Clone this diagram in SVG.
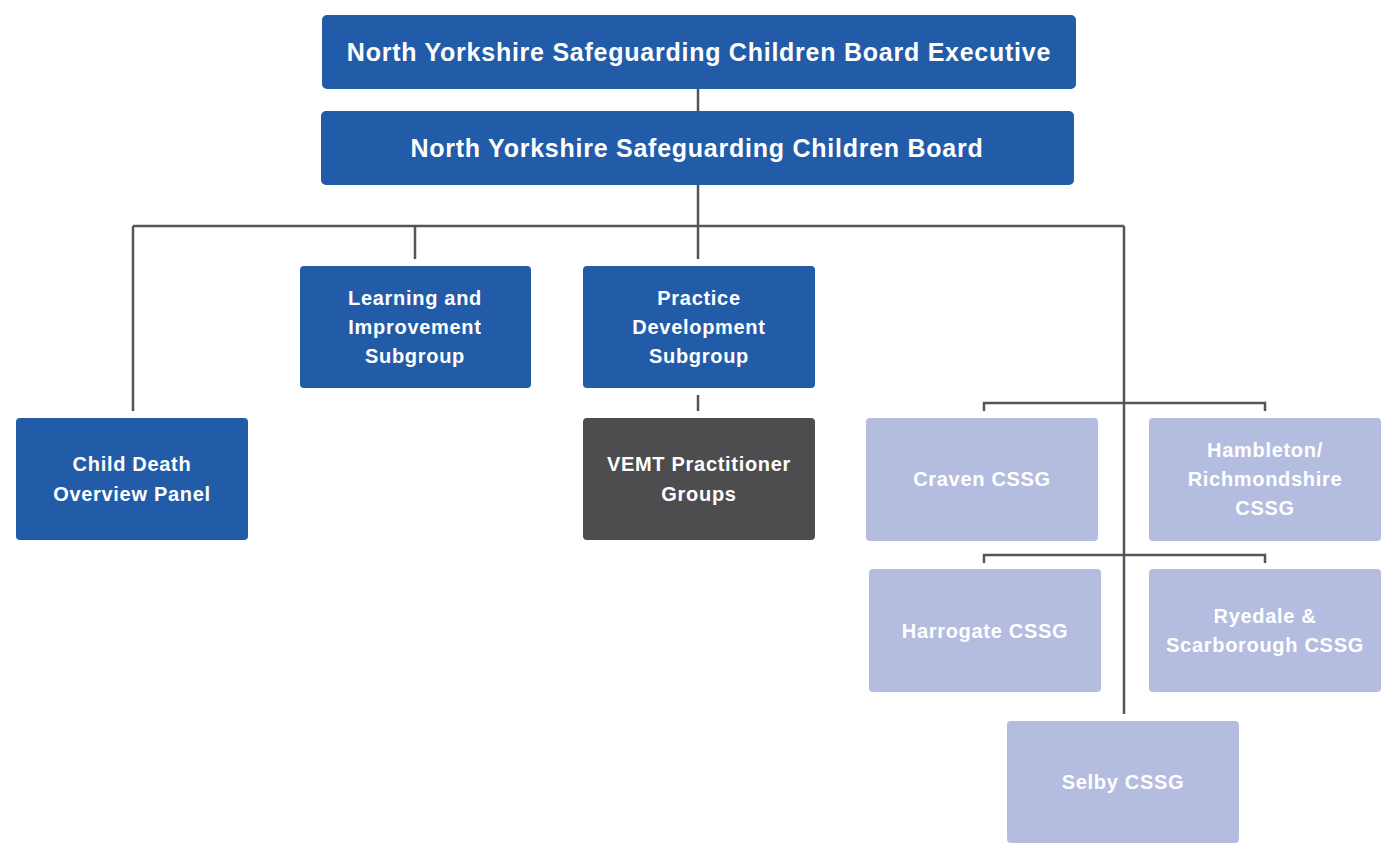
<svg xmlns="http://www.w3.org/2000/svg" width="1382" height="844" viewBox="0 0 1382 844">
<style>
.b{fill:#225ca9}
.g{fill:#4d4d4f}
.l{fill:#b4bde0}
text{font-family:"Liberation Sans",Arial,sans-serif;font-weight:bold;fill:#fff;text-anchor:middle}
.t1{font-size:25px;letter-spacing:0.75px}
.t2{font-size:20px;letter-spacing:0.7px}
.c{fill:none;stroke:#555;stroke-width:2.5}
</style>
<rect width="1382" height="844" fill="#fff"/>
<g id="connectors">
<path class="c" d="M698 89V111M698 185V226M133 226H1124M133 226V411M415 226V259M698 226V259M1124 226V714M698 395V411M984 411V403H1265V411M984 563V555H1265V563"/>
</g>
<g id="exec"><rect class="b" x="322" y="15" width="754" height="74" rx="5"/><text class="t1" x="699" y="61">North Yorkshire Safeguarding Children Board Executive</text></g>
<g id="board"><rect class="b" x="321" y="111" width="753" height="74" rx="5"/><text class="t1" x="697" y="157">North Yorkshire Safeguarding Children Board</text></g>
<g id="learning"><rect class="b" x="300" y="266" width="231" height="122" rx="4"/><text class="t2"><tspan x="415" y="305">Learning and</tspan><tspan x="415" y="334">Improvement</tspan><tspan x="415" y="363">Subgroup</tspan></text></g>
<g id="practice"><rect class="b" x="583" y="266" width="232" height="122" rx="4"/><text class="t2"><tspan x="699" y="305">Practice</tspan><tspan x="699" y="334">Development</tspan><tspan x="699" y="363">Subgroup</tspan></text></g>
<g id="childdeath"><rect class="b" x="16" y="418" width="232" height="122" rx="4"/><text class="t2"><tspan x="132" y="471">Child Death</tspan><tspan x="132" y="501">Overview Panel</tspan></text></g>
<g id="vemt"><rect class="g" x="583" y="418" width="232" height="122" rx="4"/><text class="t2"><tspan x="699" y="471">VEMT Practitioner</tspan><tspan x="699" y="501">Groups</tspan></text></g>
<g id="craven"><rect class="l" x="866" y="418" width="232" height="123" rx="4"/><text class="t2" x="982" y="486">Craven CSSG</text></g>
<g id="hambleton"><rect class="l" x="1149" y="418" width="232" height="123" rx="4"/><text class="t2"><tspan x="1265" y="457">Hambleton/</tspan><tspan x="1265" y="486">Richmondshire</tspan><tspan x="1265" y="515">CSSG</tspan></text></g>
<g id="harrogate"><rect class="l" x="869" y="569" width="232" height="123" rx="4"/><text class="t2" x="985" y="638">Harrogate CSSG</text></g>
<g id="ryedale"><rect class="l" x="1149" y="569" width="232" height="123" rx="4"/><text class="t2"><tspan x="1265" y="623">Ryedale &amp;</tspan><tspan x="1265" y="652">Scarborough CSSG</tspan></text></g>
<g id="selby"><rect class="l" x="1007" y="721" width="232" height="122" rx="4"/><text class="t2" x="1123" y="789">Selby CSSG</text></g>
</svg>
